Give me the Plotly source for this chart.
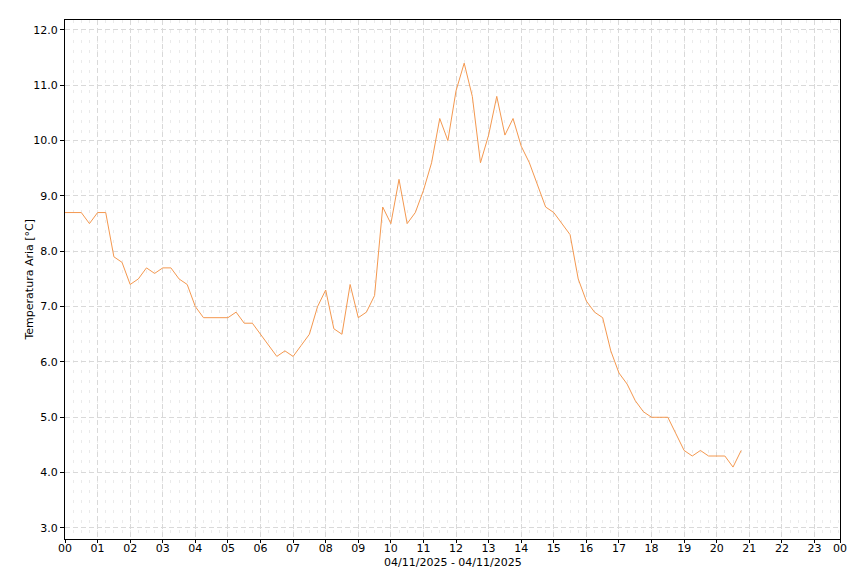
import plotly.graph_objects as go

DAY = "2025-11-04"

times = [
    "00:00", "00:15", "00:30", "00:45", "01:00", "01:15", "01:30", "01:45",
    "02:00", "02:15", "02:30", "02:45", "03:00", "03:15", "03:30", "03:45",
    "04:00", "04:15", "04:30", "04:45", "05:00", "05:15", "05:30", "05:45",
    "06:00", "06:15", "06:30", "06:45", "07:00", "07:15", "07:30", "07:45",
    "08:00", "08:15", "08:30", "08:45", "09:00", "09:15", "09:30", "09:45",
    "10:00", "10:15", "10:30", "10:45", "11:00", "11:15", "11:30", "11:45",
    "12:00", "12:15", "12:30", "12:45", "13:00", "13:15", "13:30", "13:45",
    "14:00", "14:15", "14:30", "14:45", "15:00", "15:15", "15:30", "15:45",
    "16:00", "16:15", "16:30", "16:45", "17:00", "17:15", "17:30", "17:45",
    "18:00", "18:15", "18:30", "18:45", "19:00", "19:15", "19:30", "19:45",
    "20:00", "20:15", "20:30", "20:45",
]

temps = [
    8.7, 8.7, 8.7, 8.5, 8.7, 8.7, 7.9, 7.8,
    7.4, 7.5, 7.7, 7.6, 7.7, 7.7, 7.5, 7.4,
    7.0, 6.8, 6.8, 6.8, 6.8, 6.9, 6.7, 6.7,
    6.5, 6.3, 6.1, 6.2, 6.1, 6.3, 6.5, 7.0,
    7.3, 6.6, 6.5, 7.4, 6.8, 6.9, 7.2, 8.8,
    8.5, 9.3, 8.5, 8.7, 9.1, 9.6, 10.4, 10.0,
    10.9, 11.4, 10.8, 9.6, 10.1, 10.8, 10.1, 10.4,
    9.9, 9.6, 9.2, 8.8, 8.7, 8.5, 8.3, 7.5,
    7.1, 6.9, 6.8, 6.2, 5.8, 5.6, 5.3, 5.1,
    5.0, 5.0, 5.0, 4.7, 4.4, 4.3, 4.4, 4.3,
    4.3, 4.3, 4.1, 4.4,
]

tick_times = [
    "00:00", "01:00", "02:00", "03:00", "04:00", "05:00", "06:00", "07:00",
    "08:00", "09:00", "10:00", "11:00", "12:00", "13:00", "14:00", "15:00",
    "16:00", "17:00", "18:00", "19:00", "20:00", "21:00", "22:00", "23:00",
    "23:47",
]
tick_labels = [
    "00", "01", "02", "03", "04", "05", "06", "07", "08", "09", "10", "11",
    "12", "13", "14", "15", "16", "17", "18", "19", "20", "21", "22", "23", "00",
]

y_ticks = [3.0, 4.0, 5.0, 6.0, 7.0, 8.0, 9.0, 10.0, 11.0, 12.0]

x = [f"{DAY} {t}" for t in times]
tickvals = [f"{DAY} {t}" for t in tick_times]

FONT = "DejaVu Sans"

fig = go.Figure()
fig.add_trace(go.Scatter(
    x=x, y=temps, mode="lines",
    line=dict(color="#f4984f", width=1),
    showlegend=False, hoverinfo="skip",
))

fig.update_layout(
    width=860, height=573,
    margin=dict(l=65, r=20, t=20, b=34, autoexpand=False),
    paper_bgcolor="white", plot_bgcolor="white",
    font=dict(family=FONT, size=11, color="black"),
    annotations=[
        dict(text="04/11/2025 - 04/11/2025", xref="paper", yref="paper",
             x=0.5, y=0, xanchor="center", yanchor="top", yshift=-15,
             showarrow=False, font=dict(family=FONT, size=11)),
        dict(text="Temperatura Aria [°C]", xref="paper", yref="paper",
             x=0, y=0.5, xanchor="center", yanchor="middle", xshift=-36,
             textangle=-90, showarrow=False, font=dict(family=FONT, size=11)),
    ],
)

fig.update_xaxes(
    type="date", automargin=False,
    range=[tickvals[0], tickvals[-1]],
    tickmode="array", tickvals=tickvals, ticktext=tick_labels,
    tickangle=0,
    showline=True, linecolor="black", linewidth=1, mirror=True,
    ticks="outside", ticklen=3, tickcolor="black",
    ticklabelstandoff=-4,
    showgrid=True, gridcolor="#d9d9d9", griddash="5px,3px", gridwidth=1,
    minor=dict(dtick=15 * 60 * 1000, showgrid=True, gridcolor="#ebebeb",
               griddash="3px,7px", gridwidth=1),
    zeroline=False,
    tickfont=dict(family=FONT, size=11),
)

fig.update_yaxes(
    automargin=False,
    range=[2.8, 12.18],
    tickmode="array", tickvals=y_ticks,
    ticktext=[f"{v:.1f}" for v in y_ticks],
    showline=True, linecolor="black", linewidth=1, mirror=True,
    ticks="outside", ticklen=4, tickcolor="black",
    showgrid=True, gridcolor="#d9d9d9", griddash="5px,3px", gridwidth=1,
    zeroline=False,
    tickfont=dict(family=FONT, size=11),
)

fig.write_html(
    "out.html",
    config={"displayModeBar": False},
    post_script="document.body.style.margin='0';document.body.style.padding='0';",
)
